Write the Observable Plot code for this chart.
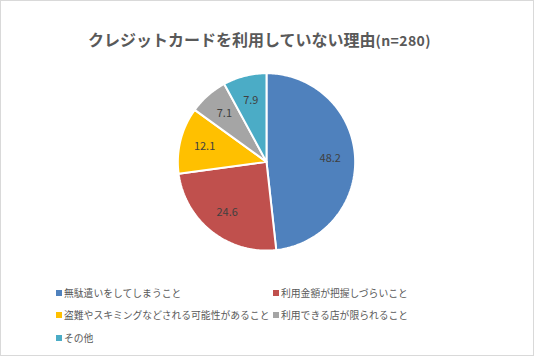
<!DOCTYPE html>
<html><head><meta charset="utf-8">
<script src="https://cdn.jsdelivr.net/npm/d3@7"></script>
<script src="https://cdn.jsdelivr.net/npm/@observablehq/plot@0.6"></script>
<style>
body{margin:0;background:#fff;font-family:"Noto Sans CJK JP","Noto Sans",sans-serif;}
#fig{position:relative;width:532px;height:354px;border:1px solid #d9d9d9;overflow:hidden;background:#fff;}
#fig svg{position:absolute;left:-1px;top:-1px;}
#title{position:absolute;left:87px;top:26px;font-weight:bold;font-size:16px;color:#595959;white-space:nowrap;}
#title small{font-size:14px;letter-spacing:0.4px;}
.lg{position:absolute;font-size:9.8px;color:#595959;white-space:nowrap;line-height:14px;}
.lg i{display:inline-block;width:6px;height:6px;margin-right:2px;vertical-align:1px;}
</style></head><body>
<div id="fig"></div>
<script>
const categories = ["無駄遣いをしてしまうこと","利用金額が把握しづらいこと","盗難やスキミングなどされる可能性があること","利用できる店が限られること","その他"];
const values = [48.2, 24.6, 12.1, 7.1, 7.9];
const valueLabels = ["48.2","24.6","12.1","7.1","7.9"];
const colors = ["#4F81BD","#C0504D","#FFC000","#A5A5A5","#4BACC6"];
const titleMain = "クレジットカードを利用していない理由";
const titleSub = "(n=280)";

const W = 534, H = 356, cx = 267, cy = 162, R = 89;
const total = d3.sum(values);
// slice outlines (angles measured clockwise from 12 o'clock)
const pts = [];
const lbl = [];
let acc = 0;
values.forEach((v, i) => {
  const a0 = acc / total * 2 * Math.PI;
  acc += v;
  const a1 = acc / total * 2 * Math.PI;
  pts.push({cat: categories[i], x: 0, y: 0});
  const n = Math.max(2, Math.ceil((a1 - a0) / (Math.PI / 180)));
  for (let k = 0; k <= n; k++) {
    const a = a0 + (a1 - a0) * k / n;
    pts.push({cat: categories[i], x: Math.sin(a), y: Math.cos(a)});
  }
  pts.push({cat: categories[i], x: 0, y: 0});
  const am = (a0 + a1) / 2;
  lbl.push({text: valueLabels[i], x: 0.72 * Math.sin(am), y: 0.72 * Math.cos(am)});
});

const chart = Plot.plot({
  width: W, height: H,
  margin: 0,
  x: {domain: [-cx / R, (W - cx) / R], axis: null},
  y: {domain: [-(H - cy) / R, cy / R], axis: null},
  color: {domain: categories, range: colors},
  style: {fontFamily: '"Noto Sans CJK JP", sans-serif', background: "transparent"},
  marks: [
    Plot.line(pts, {x: "x", y: "y", z: "cat", fill: "cat", stroke: "white", strokeWidth: 2, strokeLinejoin: "miter", curve: "linear"}),
    Plot.text(lbl, {x: "x", y: "y", text: "text", fontSize: 11, fill: "#404040"})
  ]
});
const fig = document.getElementById("fig");
fig.appendChild(chart);

const t = document.createElement("div");
t.id = "title";
t.innerHTML = titleMain + "<small>" + titleSub + "</small>";
fig.appendChild(t);

const pos = [[55, 285], [272, 285], [55, 307], [272, 307], [55, 330]];
categories.forEach((c, i) => {
  const d = document.createElement("div");
  d.className = "lg";
  d.style.left = pos[i][0] + "px";
  d.style.top = pos[i][1] + "px";
  d.innerHTML = `<i style="background:${colors[i]}"></i>${c}`;
  fig.appendChild(d);
});
</script>
</body></html>
